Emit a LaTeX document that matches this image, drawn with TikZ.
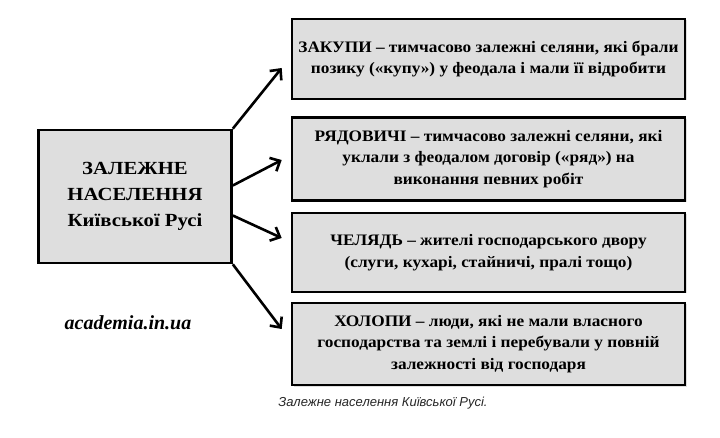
\documentclass[tikz,border=0pt]{standalone}
\usepackage{fontspec}
\setmainfont{Liberation Serif}
\newfontfamily\boxfont{Liberation Serif}[FakeStretch=1.08]
\newfontfamily\mainfont{Liberation Serif}[FakeStretch=1.12]
\newfontfamily\capfont{Liberation Sans}
\usetikzlibrary{calc,arrows.meta,shadows}
\definecolor{boxgray}{RGB}{222,222,222}
\tikzset{
  termbox/.style={draw=black,line width=2.6pt,fill=boxgray,
    drop shadow={opacity=0.25,shadow xshift=1.5pt,shadow yshift=-1.5pt},
    minimum width=393pt,inner sep=0pt,align=center,
    font=\boxfont\bfseries\fontsize{16}{21.5}\selectfont},
  arr/.style={line width=2.6pt,-{Straight Barb[length=8pt,width=15pt,line width=2.6pt]}}
}

\begin{document}
\begin{tikzpicture}[x=1pt,y=-1pt]
\useasboundingbox (0,0) rectangle (720,438);
\node[termbox,minimum width=193pt,minimum height=133pt,
  font=\mainfont\bfseries\fontsize{18.5}{26}\selectfont] (main) at (135,196.5)
  {ЗАЛЕЖНЕ\\НАСЕЛЕННЯ\\Київської Русі};
% boxes on the right
\node[termbox,minimum height=80pt] (zakupy) at (488.5,59)
  {ЗАКУПИ – тимчасово залежні селяни, які брали\\
   позику («купу») у феодала і мали її відробити};
\node[termbox,minimum height=83pt] (riadovychi) at (488.5,159)
  {РЯДОВИЧІ – тимчасово залежні селяни, які\\
   уклали з феодалом договір («ряд») на\\
   виконання певних робіт};
\node[termbox,minimum height=79pt] (cheliad) at (488.5,252.5)
  {ЧЕЛЯДЬ – жителі господарського двору\\
   (слуги, кухарі, стайничі, пралі тощо)};
\node[termbox,minimum height=82pt] (kholopy) at (488.5,344)
  {ХОЛОПИ – люди, які не мали власного\\
   господарства та землі і перебували у повній\\
   залежності від господаря};
\node[font=\bfseries\itshape\fontsize{20}{22}\selectfont] (site) at (128,323) {academia.in.ua};
\node[font=\capfont\itshape\fontsize{13}{15}\selectfont,text=black!85] (caption) at (383,403)
  {Залежне населення Київської Русі.};
\draw[arr] (main.north east) -- ($(zakupy.west)+(-9,9)$);
\draw[arr] ($(main.east)+(0,-11)$) -- ($(riadovychi.west)+(-9,1)$);
\draw[arr] ($(main.east)+(0,19)$) -- ($(cheliad.west)+(-9,-14.5)$);
\draw[arr] (main.south east) -- ($(kholopy.west)+(-9,-15)$);
\end{tikzpicture}
\end{document}
